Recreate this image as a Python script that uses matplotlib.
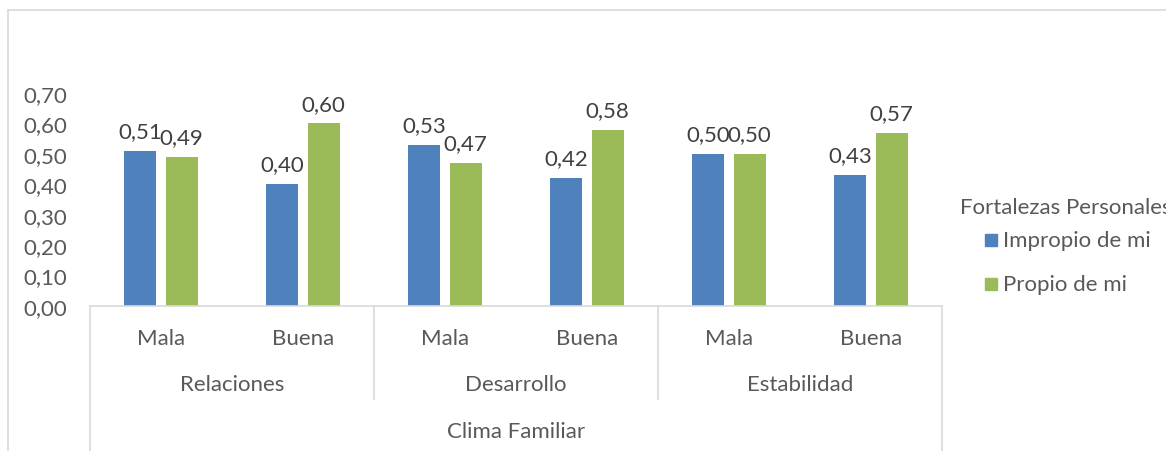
import matplotlib
matplotlib.use("Agg")
import matplotlib.pyplot as plt
from matplotlib.lines import Line2D
from matplotlib.patches import Rectangle
from matplotlib.transforms import blended_transform_factory
import numpy as np

plt.rcParams["font.family"] = ["Lato", "DejaVu Sans"]

groups = ["Relaciones", "Desarrollo", "Estabilidad"]
levels = ["Mala", "Buena"]
series_names = ["Impropio de mi", "Propio de mi"]
legend_title = "Fortalezas Personales"
impropio = [0.51, 0.40, 0.53, 0.42, 0.50, 0.43]
propio = [0.49, 0.60, 0.47, 0.58, 0.50, 0.57]
yticks = [0.0, 0.1, 0.2, 0.3, 0.4, 0.5, 0.6, 0.7]

colors = ["#4F81BD", "#9BBB59"]
text_color = "#595959"
line_color = "#D9D9D9"
fs = 16

W, H = 1166, 452
fig = plt.figure(figsize=(W / 100, H / 100), dpi=100)
ax = fig.add_axes([90 / W, 1 - 307 / H, (942 - 90) / W, (307 - 63.6) / H])

x = np.arange(len(impropio))
bw = 0.225
off = 0.145
for vals, sign, c in [(impropio, -1, colors[0]), (propio, 1, colors[1])]:
    bars = ax.bar(x + sign * off, vals, width=bw, color=c)
    for b, v in zip(bars, vals):
        ax.annotate(f"{v:.2f}".replace(".", ","),
                    (b.get_x() + b.get_width() / 2, v),
                    xytext=(0, 7), textcoords="offset points",
                    ha="center", va="bottom", fontsize=fs, color="#404040")

ax.set_xlim(-0.5, len(x) - 0.5)
ax.set_ylim(0, 0.8)
ax.set_yticks(yticks)
ax.set_yticklabels([f"{t:.2f}".replace(".", ",") for t in yticks])
ax.tick_params(axis="y", length=0, pad=16.5, labelsize=fs, labelcolor=text_color)
ax.set_xticks([])
for s in ["left", "right", "top"]:
    ax.spines[s].set_visible(False)
ax.spines["bottom"].set_color(line_color)
ax.spines["bottom"].set_linewidth(1.2)

ax_h = 307 - 63.6
tr = blended_transform_factory(ax.transData, ax.transAxes)

def ya(py):
    return (307 - py) / ax_h

# category and group labels
for i in x:
    ax.text(i, ya(339), levels[i % 2], transform=tr, ha="center", va="center",
            fontsize=fs, color=text_color)
for g, name in enumerate(groups):
    ax.text(2 * g + 0.5, ya(385), name, transform=tr, ha="center", va="center",
            fontsize=fs, color=text_color)
ax.text(2.5, ya(432), "Clima Familiar", transform=tr, ha="center", va="center",
        fontsize=fs, color=text_color)

# separators
for xs, bottom in [(-0.5, 460), (1.5, 400), (3.5, 400), (5.5, 460)]:
    ax.add_line(Line2D([xs, xs], [0, ya(bottom)], transform=tr, color=line_color,
                       lw=1.2, clip_on=False))

# outer chart border (cut off at right and bottom)
fig.add_artist(Line2D([8 / W, 8 / W], [-0.1, 1 - 11 / H], transform=fig.transFigure,
                      color=line_color, lw=1.2))
fig.add_artist(Line2D([8 / W, 1.1], [1 - 11 / H, 1 - 11 / H], transform=fig.transFigure,
                      color=line_color, lw=1.2))

# legend, placed by hand (title runs past the right edge as in the original)
fig.text(960 / W, 1 - 208 / H, legend_title, ha="left", va="center",
         fontsize=fs, color=text_color)
for name, c, py in zip(series_names, colors, [241, 285]):
    fig.add_artist(Rectangle((985 / W, 1 - (py + 6) / H), 12 / W, 12 / H,
                             transform=fig.transFigure, color=c))
    fig.text(1003 / W, 1 - py / H, name, ha="left", va="center",
             fontsize=fs, color=text_color)

fig.savefig("out.png", dpi=100)
